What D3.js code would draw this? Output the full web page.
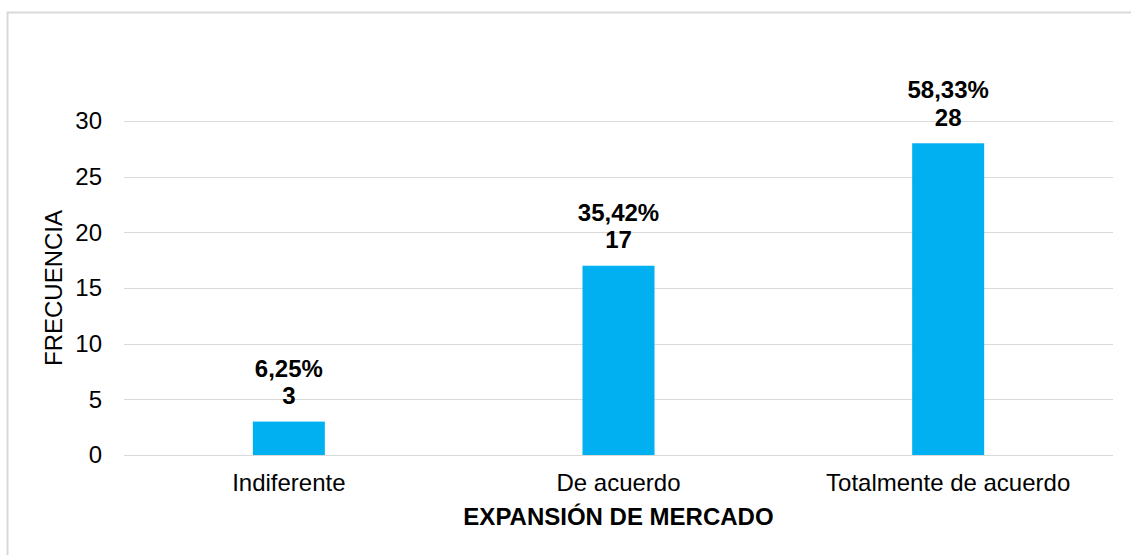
<!DOCTYPE html>
<html>
<head>
<meta charset="utf-8">
<script src="https://cdn.jsdelivr.net/npm/d3@7"></script>
<style>
  html, body { margin: 0; padding: 0; background: #ffffff; }
  svg { display: block; font-family: "Liberation Sans", Arial, sans-serif; }
</style>
</head>
<body>
<svg id="chart" width="1131" height="555"></svg>
<script>
// Frequency of responses for "Expansión de mercado"
const categories = ["Indiferente", "De acuerdo", "Totalmente de acuerdo"];
const frequencies = [3, 17, 28];
const percentLabels = ["6,25%", "35,42%", "58,33%"];
const yTicks = [0, 5, 10, 15, 20, 25, 30];

const svg = d3.select("#chart");
const W = 1131, H = 555;
const margin = { left: 124, right: 18, top: 121, bottom: 100 };
const FONT = 24;

// Outer chart frame
svg.append("rect")
  .attr("x", 7.5).attr("y", 12.5)
  .attr("width", 1140).attr("height", 560)
  .attr("fill", "none")
  .attr("stroke", "#d9d9d9")
  .attr("stroke-width", 2);

const x = d3.scaleBand()
  .domain(categories)
  .range([margin.left, W - margin.right])
  .paddingInner(0).paddingOuter(0);

const y = d3.scaleLinear()
  .domain([0, 30])
  .range([H - margin.bottom, margin.top]);

// Horizontal gridlines
svg.append("g")
  .selectAll("line")
  .data(yTicks)
  .join("line")
  .attr("x1", margin.left).attr("x2", W - margin.right)
  .attr("y1", d => Math.round(y(d)) + 0.5)
  .attr("y2", d => Math.round(y(d)) + 0.5)
  .attr("stroke", "#d9d9d9")
  .attr("stroke-width", 1);

// Y axis tick labels
const yAxis = d3.axisLeft(y).tickValues(yTicks).tickSize(0).tickPadding(22);
const yg = svg.append("g")
  .attr("transform", `translate(${margin.left},0)`)
  .call(yAxis);
yg.select(".domain").remove();
yg.selectAll("text")
  .attr("font-size", FONT)
  .attr("font-family", "Liberation Sans, Arial, sans-serif")
  .attr("fill", "#000");

// Bars
const barW = 72;
svg.append("g")
  .selectAll("rect")
  .data(categories)
  .join("rect")
  .attr("x", d => x(d) + x.bandwidth() / 2 - barW / 2)
  .attr("width", barW)
  .attr("y", (d, i) => y(frequencies[i]))
  .attr("height", (d, i) => y(0) - y(frequencies[i]))
  .attr("fill", "#00b0f0");

// Category axis labels
const xAxis = d3.axisBottom(x).tickSize(0).tickPadding(19);
const xg = svg.append("g")
  .attr("transform", `translate(0,${y(0)})`)
  .call(xAxis);
xg.select(".domain").remove();
xg.selectAll("text")
  .attr("font-size", FONT)
  .attr("font-family", "Liberation Sans, Arial, sans-serif")
  .attr("fill", "#000");

// Data labels: percentage above count
const labels = svg.append("g")
  .attr("font-size", FONT)
  .attr("font-weight", "bold")
  .attr("text-anchor", "middle")
  .attr("fill", "#000");
categories.forEach((c, i) => {
  const cx = x(c) + x.bandwidth() / 2;
  const top = y(frequencies[i]);
  labels.append("text").attr("x", cx).attr("y", top - 45).text(percentLabels[i]);
  labels.append("text").attr("x", cx).attr("y", top - 17.5).text(frequencies[i]);
});

// Axis titles
svg.append("text")
  .attr("x", (margin.left + W - margin.right) / 2)
  .attr("y", 525)
  .attr("text-anchor", "middle")
  .attr("font-size", FONT)
  .attr("font-weight", "bold")
  .text("EXPANSIÓN DE MERCADO");

svg.append("text")
  .attr("transform", `translate(62,${(y(0) + y(30)) / 2}) rotate(-90)`)
  .attr("text-anchor", "middle")
  .attr("font-size", FONT)
  .text("FRECUENCIA");
</script>
</body>
</html>
